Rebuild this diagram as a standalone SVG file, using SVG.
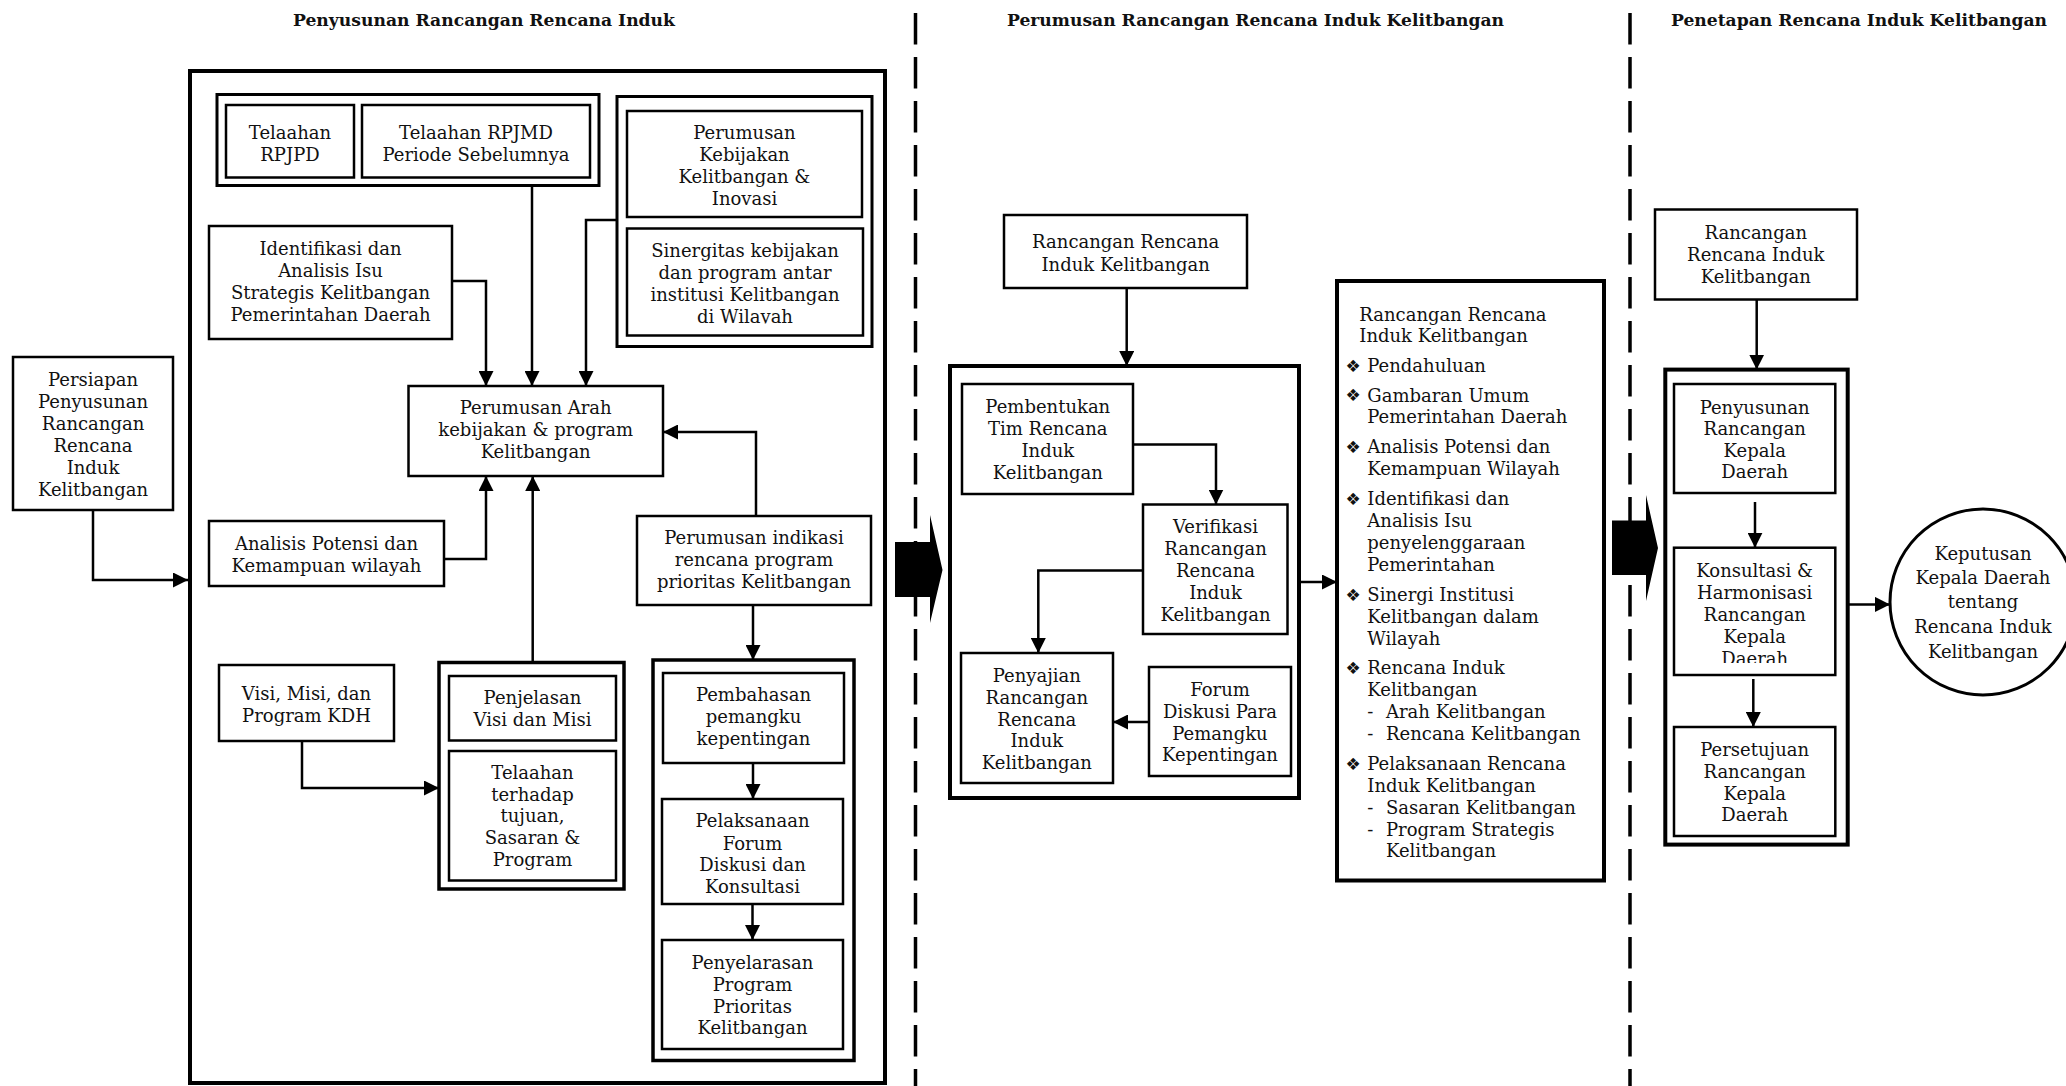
<svg xmlns="http://www.w3.org/2000/svg" width="2066" height="1086" viewBox="0 0 2066 1086">
<style>
.bg{fill:#fff}
.box{fill:#fff;stroke:#000;stroke-width:2.5}
.grp{fill:none;stroke:#000;stroke-width:3.5}
.big{fill:none;stroke:#000;stroke-width:4}
.t{font-family:"DejaVu Serif","Liberation Serif",serif;font-size:18px;fill:#111;text-anchor:middle}
.l{text-anchor:start}
.h{font-weight:bold;font-size:17px;text-anchor:start}
.b{font-family:"DejaVu Sans","Liberation Sans",sans-serif;font-size:17px;fill:#111}
.c{fill:none;stroke:#000;stroke-width:2.5;marker-end:url(#ah)}
.d{stroke:#000;stroke-width:3.5;stroke-dasharray:31.5 12.5;fill:none}
.blk{fill:#000}
</style>
<defs>
<marker id="ah" markerWidth="15" markerHeight="15" refX="15" refY="7.5" orient="auto" markerUnits="userSpaceOnUse"><path d="M0,0 L15,7.5 L0,15 Z" fill="#000"/></marker>
<clipPath id="clipSin"><rect x="627" y="228" width="236" height="95.5"/></clipPath>
<clipPath id="clipKon"><rect x="1674" y="547" width="162" height="116"/></clipPath>
</defs>
<rect class="bg" x="0" y="0" width="2066" height="1086"/>

<!-- section titles -->
<g id="titles">
<text class="t h" x="293" y="26" textLength="382" lengthAdjust="spacingAndGlyphs">Penyusunan Rancangan Rencana Induk</text>
<text class="t h" x="1007" y="26" textLength="497" lengthAdjust="spacingAndGlyphs">Perumusan Rancangan Rencana Induk Kelitbangan</text>
<text class="t h" x="1671" y="26" textLength="376" lengthAdjust="spacingAndGlyphs">Penetapan Rencana Induk Kelitbangan</text>
</g>

<!-- separators -->
<g id="separators">
<line class="d" x1="915.5" y1="13" x2="915.5" y2="1086"/>
<line class="d" x1="1630" y1="13" x2="1630" y2="1086"/>
<path class="blk" d="M895,542 L930,542 L930,515 L942.5,570 L930,623 L930,597 L895,597 Z"/>
<path class="blk" d="M1612,520.5 L1646,520.5 L1646,495 L1658,548 L1646,601 L1646,575 L1612,575 Z"/>
</g>

<!-- left section -->
<g id="main-box"><rect class="big" x="190" y="71" width="695" height="1012"/></g>

<g id="persiapan">
<rect class="box" x="13" y="357" width="160" height="153"/>
<text class="t" x="93" y="386">Persiapan</text>
<text class="t" x="93" y="408">Penyusunan</text>
<text class="t" x="93" y="430">Rancangan</text>
<text class="t" x="93" y="452">Rencana</text>
<text class="t" x="93" y="474">Induk</text>
<text class="t" x="93" y="496">Kelitbangan</text>
</g>

<g id="telaahan-group">
<rect class="grp" x="217" y="94.5" width="382" height="91" style="stroke-width:3"/>
<rect class="box" x="226" y="105" width="128" height="72.5"/>
<text class="t" x="290" y="139">Telaahan</text>
<text class="t" x="290" y="161">RPJPD</text>
<rect class="box" x="362" y="105" width="228" height="72.5"/>
<text class="t" x="476" y="139">Telaahan RPJMD</text>
<text class="t" x="476" y="161">Periode Sebelumnya</text>
</g>

<g id="identifikasi">
<rect class="box" x="209" y="226" width="243" height="113"/>
<text class="t" x="330.5" y="255">Identifikasi dan</text>
<text class="t" x="330.5" y="277">Analisis Isu</text>
<text class="t" x="330.5" y="299">Strategis Kelitbangan</text>
<text class="t" x="330.5" y="321">Pemerintahan Daerah</text>
</g>

<g id="kebijakan-group">
<rect class="grp" x="617" y="96.5" width="255" height="250" style="stroke-width:3"/>
<rect class="box" x="627" y="111" width="235" height="106"/>
<text class="t" x="744.5" y="139">Perumusan</text>
<text class="t" x="744.5" y="161">Kebijakan</text>
<text class="t" x="744.5" y="183">Kelitbangan &amp;</text>
<text class="t" x="744.5" y="205">Inovasi</text>
<rect class="box" x="627" y="228.5" width="236" height="107"/>
<g clip-path="url(#clipSin)">
<text class="t" x="745" y="257">Sinergitas kebijakan</text>
<text class="t" x="745" y="279">dan program antar</text>
<text class="t" x="745" y="301">institusi Kelitbangan</text>
<text class="t" x="745" y="323">di Wilayah</text>
</g>
</g>

<g id="perumusan-arah">
<rect class="box" x="408.5" y="386" width="254.5" height="90"/>
<text class="t" x="535.7" y="414">Perumusan Arah</text>
<text class="t" x="535.7" y="436">kebijakan &amp; program</text>
<text class="t" x="535.7" y="458">Kelitbangan</text>
</g>

<g id="analisis-potensi">
<rect class="box" x="209" y="521" width="235" height="65"/>
<text class="t" x="326.5" y="550">Analisis Potensi dan</text>
<text class="t" x="326.5" y="572">Kemampuan wilayah</text>
</g>

<g id="perumusan-indikasi">
<rect class="box" x="637" y="516" width="234" height="89"/>
<text class="t" x="754" y="544">Perumusan indikasi</text>
<text class="t" x="754" y="566">rencana program</text>
<text class="t" x="754" y="588">prioritas Kelitbangan</text>
</g>

<g id="visi-misi">
<rect class="box" x="219" y="665" width="175" height="76"/>
<text class="t" x="306.5" y="699.5">Visi, Misi, dan</text>
<text class="t" x="306.5" y="722">Program KDH</text>
</g>

<g id="penjelasan-group">
<rect class="grp" x="439" y="662.5" width="185" height="226.5"/>
<rect class="box" x="449" y="676" width="167" height="64.5"/>
<text class="t" x="532.5" y="703.5">Penjelasan</text>
<text class="t" x="532.5" y="725.5">Visi dan Misi</text>
<rect class="box" x="449" y="751" width="167" height="129.5"/>
<text class="t" x="532.5" y="778.5">Telaahan</text>
<text class="t" x="532.5" y="800.5">terhadap</text>
<text class="t" x="532.5" y="822">tujuan,</text>
<text class="t" x="532.5" y="844">Sasaran &amp;</text>
<text class="t" x="532.5" y="865.5">Program</text>
</g>

<g id="pembahasan-group">
<rect class="grp" x="653" y="660" width="201" height="400.5"/>
<rect class="box" x="663" y="673" width="181" height="90"/>
<text class="t" x="753.5" y="701">Pembahasan</text>
<text class="t" x="753.5" y="723">pemangku</text>
<text class="t" x="753.5" y="745">kepentingan</text>
<rect class="box" x="662" y="799" width="181" height="105"/>
<text class="t" x="752.5" y="827">Pelaksanaan</text>
<text class="t" x="752.5" y="849.5">Forum</text>
<text class="t" x="752.5" y="871">Diskusi dan</text>
<text class="t" x="752.5" y="892.5">Konsultasi</text>
<rect class="box" x="662" y="940" width="181" height="109"/>
<text class="t" x="752.5" y="969">Penyelarasan</text>
<text class="t" x="752.5" y="991">Program</text>
<text class="t" x="752.5" y="1012.5">Prioritas</text>
<text class="t" x="752.5" y="1034">Kelitbangan</text>
</g>

<!-- middle section -->
<g id="rancangan-mid">
<rect class="box" x="1004" y="215" width="243" height="73"/>
<text class="t" x="1125.7" y="247.5">Rancangan Rencana</text>
<text class="t" x="1125.7" y="270.5">Induk Kelitbangan</text>
</g>

<g id="mid-group"><rect class="big" x="950" y="366" width="349" height="432"/></g>

<g id="pembentukan">
<rect class="box" x="962" y="384" width="171" height="110"/>
<text class="t" x="1047.8" y="412.5">Pembentukan</text>
<text class="t" x="1047.8" y="435">Tim Rencana</text>
<text class="t" x="1047.8" y="457">Induk</text>
<text class="t" x="1047.8" y="479">Kelitbangan</text>
</g>

<g id="verifikasi">
<rect class="box" x="1143" y="504.5" width="144.5" height="129.5"/>
<text class="t" x="1215.5" y="533">Verifikasi</text>
<text class="t" x="1215.5" y="555">Rancangan</text>
<text class="t" x="1215.5" y="577">Rencana</text>
<text class="t" x="1215.5" y="599">Induk</text>
<text class="t" x="1215.5" y="621">Kelitbangan</text>
</g>

<g id="penyajian">
<rect class="box" x="961" y="653" width="152" height="130"/>
<text class="t" x="1036.8" y="682">Penyajian</text>
<text class="t" x="1036.8" y="704">Rancangan</text>
<text class="t" x="1036.8" y="725.5">Rencana</text>
<text class="t" x="1036.8" y="747">Induk</text>
<text class="t" x="1036.8" y="769">Kelitbangan</text>
</g>

<g id="forum">
<rect class="box" x="1149" y="667" width="142" height="109"/>
<text class="t" x="1220" y="696">Forum</text>
<text class="t" x="1220" y="718">Diskusi Para</text>
<text class="t" x="1220" y="739.5">Pemangku</text>
<text class="t" x="1220" y="761">Kepentingan</text>
</g>

<g id="outline-list">
<rect class="big" x="1337" y="281" width="267" height="599.5"/>
<text class="t l" x="1359.3" y="320.5">Rancangan Rencana</text>
<text class="t l" x="1359.3" y="342">Induk Kelitbangan</text>
<text class="b" x="1345.5" y="371.5">❖</text>
<text class="t l" x="1367.3" y="372">Pendahuluan</text>
<text class="b" x="1345.5" y="401">❖</text>
<text class="t l" x="1367.3" y="401.5">Gambaran Umum</text>
<text class="t l" x="1367.3" y="423">Pemerintahan Daerah</text>
<text class="b" x="1345.5" y="452.5">❖</text>
<text class="t l" x="1367.3" y="453">Analisis Potensi dan</text>
<text class="t l" x="1367.3" y="475">Kemampuan Wilayah</text>
<text class="b" x="1345.5" y="504.5">❖</text>
<text class="t l" x="1367.3" y="505">Identifikasi dan</text>
<text class="t l" x="1367.3" y="527">Analisis Isu</text>
<text class="t l" x="1367.3" y="549">penyelenggaraan</text>
<text class="t l" x="1367.3" y="571">Pemerintahan</text>
<text class="b" x="1345.5" y="600.5">❖</text>
<text class="t l" x="1367.3" y="601">Sinergi Institusi</text>
<text class="t l" x="1367.3" y="623">Kelitbangan dalam</text>
<text class="t l" x="1367.3" y="645">Wilayah</text>
<text class="b" x="1345.5" y="673.5">❖</text>
<text class="t l" x="1367.3" y="674">Rencana Induk</text>
<text class="t l" x="1367.3" y="696">Kelitbangan</text>
<text class="t l" x="1367.3" y="718">-</text>
<text class="t l" x="1386" y="718">Arah Kelitbangan</text>
<text class="t l" x="1367.3" y="739.5">-</text>
<text class="t l" x="1386" y="739.5">Rencana Kelitbangan</text>
<text class="b" x="1345.5" y="769.5">❖</text>
<text class="t l" x="1367.3" y="770">Pelaksanaan Rencana</text>
<text class="t l" x="1367.3" y="792">Induk Kelitbangan</text>
<text class="t l" x="1367.3" y="814">-</text>
<text class="t l" x="1386" y="814">Sasaran Kelitbangan</text>
<text class="t l" x="1367.3" y="835.5">-</text>
<text class="t l" x="1386" y="835.5">Program Strategis</text>
<text class="t l" x="1386" y="857">Kelitbangan</text>
</g>

<!-- right section -->
<g id="rancangan-right">
<rect class="box" x="1655" y="209.5" width="202" height="90"/>
<text class="t" x="1755.8" y="238.5">Rancangan</text>
<text class="t" x="1755.8" y="261">Rencana Induk</text>
<text class="t" x="1755.8" y="283">Kelitbangan</text>
</g>

<g id="right-group"><rect class="big" x="1665.3" y="369.6" width="182.4" height="475"/></g>

<g id="penyusunan-kd">
<rect class="box" x="1674" y="384" width="161.3" height="109"/>
<text class="t" x="1754.7" y="413.5">Penyusunan</text>
<text class="t" x="1754.7" y="435">Rancangan</text>
<text class="t" x="1754.7" y="456.5">Kepala</text>
<text class="t" x="1754.7" y="478">Daerah</text>
</g>

<g id="konsultasi">
<rect class="box" x="1674" y="547.7" width="161.3" height="127.3"/>
<g clip-path="url(#clipKon)">
<text class="t" x="1754.7" y="576.6">Konsultasi &amp;</text>
<text class="t" x="1754.7" y="598.5">Harmonisasi</text>
<text class="t" x="1754.7" y="620.8">Rancangan</text>
<text class="t" x="1754.7" y="642.7">Kepala</text>
<text class="t" x="1754.7" y="664.6">Daerah</text>
</g>
</g>

<g id="persetujuan">
<rect class="box" x="1674" y="727" width="161.3" height="109"/>
<text class="t" x="1754.7" y="756">Persetujuan</text>
<text class="t" x="1754.7" y="778">Rancangan</text>
<text class="t" x="1754.7" y="799.5">Kepala</text>
<text class="t" x="1754.7" y="820.5">Daerah</text>
</g>

<g id="keputusan">
<circle cx="1983" cy="602" r="93" fill="#fff" stroke="#000" stroke-width="3"/>
<text class="t" x="1983" y="560">Keputusan</text>
<text class="t" x="1983" y="584">Kepala Daerah</text>
<text class="t" x="1983" y="608">tentang</text>
<text class="t" x="1983" y="633">Rencana Induk</text>
<text class="t" x="1983" y="658">Kelitbangan</text>
</g>

<!-- connectors -->
<g id="connectors">
<path class="c" d="M93,510 V580 H188"/>
<path class="c" d="M452,281 H486 V386"/>
<path class="c" d="M532,186 V386"/>
<path class="c" d="M617,220 H586 V386"/>
<path class="c" d="M756,516 V432 H663"/>
<path class="c" d="M444,559 H486 V476"/>
<path class="c" d="M532.7,662.5 V476"/>
<path class="c" d="M302,741 V788 H439"/>
<path class="c" d="M753,605 V660"/>
<path class="c" d="M753,763 V799"/>
<path class="c" d="M752.5,904 V940"/>
<path class="c" d="M1126.7,288 V366"/>
<path class="c" d="M1133,444.5 H1216 V504.5"/>
<path class="c" d="M1143,570.6 H1038.3 V653"/>
<path class="c" d="M1149,722 H1113"/>
<path class="c" d="M1299,582 H1337"/>
<path class="c" d="M1756.7,299.5 V369.6"/>
<path class="c" d="M1755,502 V547.7"/>
<path class="c" d="M1753.3,679 V727"/>
<path class="c" d="M1847.7,604.4 H1890"/>
</g>
</svg>
